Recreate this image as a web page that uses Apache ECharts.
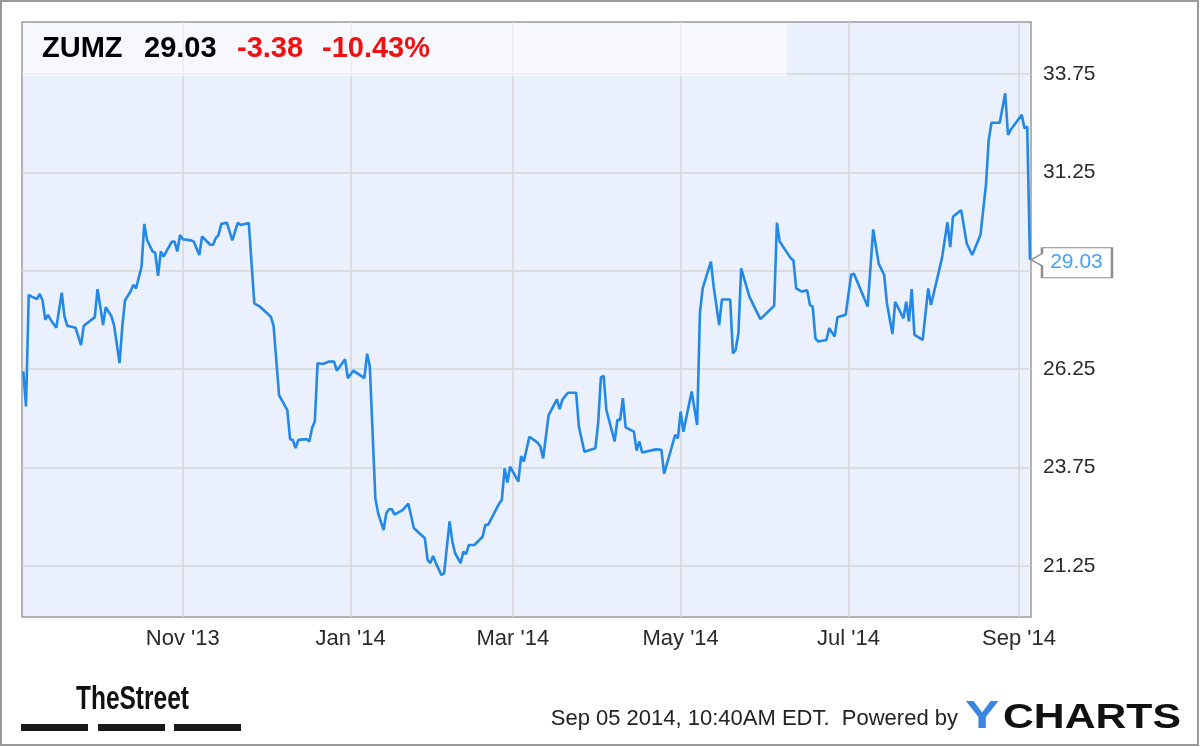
<!DOCTYPE html>
<html>
<head>
<meta charset="utf-8">
<script src="https://cdn.jsdelivr.net/npm/echarts@6/dist/echarts.min.js"></script>
<style>
  html, body { margin: 0; padding: 0; background: #fff; }
  #chart { width: 1200px; height: 747px; }
</style>
</head>
<body>
<div id="chart"></div>
<script>
// ---- header texts ----
const ticker = 'ZUMZ';
const lastPrice = '29.03';
const change = '-3.38';
const changePct = '-10.43%';
const stamp = 'Sep 05 2014, 10:40AM EDT.  Powered by';

// ---- series ----
const dates = [
 '2013-09-04','2013-09-05','2013-09-06','2013-09-07','2013-09-09','2013-09-10','2013-09-11','2013-09-12','2013-09-13','2013-09-14',
 '2013-09-16','2013-09-18','2013-09-19','2013-09-20','2013-09-23','2013-09-25','2013-09-26','2013-09-28','2013-09-30','2013-10-01',
 '2013-10-02','2013-10-03','2013-10-04','2013-10-06','2013-10-07','2013-10-09','2013-10-10','2013-10-11','2013-10-13','2013-10-14',
 '2013-10-15','2013-10-17','2013-10-18','2013-10-19','2013-10-21','2013-10-22','2013-10-23','2013-10-24','2013-10-25','2013-10-28',
 '2013-10-29','2013-10-30','2013-10-31','2013-11-01','2013-11-04','2013-11-05','2013-11-07','2013-11-08','2013-11-11','2013-11-12',
 '2013-11-13','2013-11-14','2013-11-15','2013-11-17','2013-11-19','2013-11-21','2013-11-22','2013-11-25','2013-11-27','2013-11-29',
 '2013-12-03','2013-12-04','2013-12-06','2013-12-09','2013-12-10','2013-12-11','2013-12-12','2013-12-13','2013-12-16','2013-12-17',
 '2013-12-18','2013-12-19','2013-12-20','2013-12-22','2013-12-24','2013-12-26','2013-12-27','2013-12-30','2013-12-31','2014-01-02',
 '2014-01-06','2014-01-07','2014-01-08','2014-01-10','2014-01-11','2014-01-13','2014-01-14','2014-01-15','2014-01-16','2014-01-17',
 '2014-01-20','2014-01-22','2014-01-24','2014-01-26','2014-01-28','2014-01-29','2014-01-30','2014-01-31','2014-02-01','2014-02-03',
 '2014-02-04','2014-02-06','2014-02-07','2014-02-08','2014-02-10','2014-02-11','2014-02-12','2014-02-13','2014-02-15','2014-02-18',
 '2014-02-19','2014-02-20','2014-02-24','2014-02-25','2014-02-26','2014-02-27','2014-02-28','2014-03-03','2014-03-04','2014-03-05',
 '2014-03-07','2014-03-10','2014-03-11','2014-03-12','2014-03-14','2014-03-17','2014-03-18','2014-03-19','2014-03-21','2014-03-24',
 '2014-03-25','2014-03-27','2014-03-31','2014-04-01','2014-04-02','2014-04-03','2014-04-04','2014-04-07','2014-04-08','2014-04-09',
 '2014-04-10','2014-04-11','2014-04-14','2014-04-15','2014-04-16','2014-04-17','2014-04-22','2014-04-24','2014-04-25','2014-04-29',
 '2014-04-30','2014-05-01','2014-05-02','2014-05-05','2014-05-07','2014-05-08','2014-05-09','2014-05-12','2014-05-13','2014-05-15',
 '2014-05-16','2014-05-19','2014-05-20','2014-05-21','2014-05-22','2014-05-23','2014-05-26','2014-05-28','2014-05-30','2014-06-04',
 '2014-06-05','2014-06-06','2014-06-10','2014-06-11','2014-06-12','2014-06-14','2014-06-16','2014-06-17','2014-06-18','2014-06-19',
 '2014-06-20','2014-06-23','2014-06-24','2014-06-26','2014-06-27','2014-06-30','2014-07-02','2014-07-03','2014-07-08','2014-07-10',
 '2014-07-12','2014-07-14','2014-07-15','2014-07-17','2014-07-18','2014-07-21','2014-07-22','2014-07-23','2014-07-24','2014-07-25',
 '2014-07-28','2014-07-30','2014-07-31','2014-08-02','2014-08-04','2014-08-06','2014-08-07','2014-08-08','2014-08-11','2014-08-13',
 '2014-08-15','2014-08-18','2014-08-20','2014-08-21','2014-08-22','2014-08-25','2014-08-27','2014-08-28','2014-08-29','2014-09-02',
 '2014-09-03','2014-09-04','2014-09-05'
];
const prices = [
 26.19,25.30,28.14,28.09,28.03,28.16,28.00,27.50,27.63,27.50,
 27.30,28.19,27.58,27.35,27.30,26.86,27.35,27.46,27.57,28.28,
 27.84,27.37,27.82,27.60,27.37,26.40,27.33,28.00,28.22,28.39,
 28.30,28.85,29.94,29.53,29.24,29.20,28.62,29.24,29.11,29.49,
 29.49,29.24,29.66,29.55,29.52,29.49,29.15,29.62,29.41,29.41,
 29.58,29.66,29.94,29.97,29.52,29.97,29.91,29.96,27.92,27.84,
 27.58,27.35,25.59,25.21,24.47,24.45,24.24,24.45,24.47,24.41,
 24.75,24.92,26.40,26.38,26.44,26.44,26.21,26.50,26.02,26.21,
 26.02,26.64,26.31,22.97,22.59,22.16,22.59,22.69,22.69,22.55,
 22.67,22.83,22.21,22.08,21.95,21.40,21.32,21.50,21.32,21.02,
 21.06,22.38,21.87,21.57,21.32,21.61,21.55,21.78,21.78,21.99,
 22.29,22.29,22.83,22.93,23.73,23.37,23.77,23.39,24.04,23.90,
 24.53,24.38,24.28,23.98,25.08,25.48,25.23,25.47,25.65,25.65,
 24.79,24.15,24.24,24.87,26.04,26.08,25.21,24.41,24.96,24.96,
 25.51,24.77,24.66,24.18,24.41,24.13,24.21,24.20,23.59,24.58,
 24.49,25.17,24.66,25.68,24.83,27.67,28.30,28.98,28.35,27.37,
 28.02,28.02,26.65,26.74,27.16,28.81,28.09,27.80,27.52,27.86,
 29.97,29.49,29.07,29.01,28.30,28.22,28.25,27.88,27.84,27.03,
 26.95,26.99,27.29,27.08,27.57,27.63,28.65,28.67,27.84,29.80,
 28.93,28.64,27.92,27.14,27.96,27.54,27.96,27.46,28.28,27.12,
 26.99,28.30,27.88,28.47,29.07,29.98,29.35,30.12,30.29,29.44,
 29.15,29.66,30.93,32.07,32.51,32.51,33.26,32.20,32.33,32.71,
 32.37,32.41,29.03
];

// ---- axes ----
const xMin = '2013-09-03T13:00:00';
const xMax = '2014-09-05T09:00:00';
const xTickDates = ['2013-11-01','2014-01-01','2014-03-01','2014-05-01','2014-07-01','2014-09-01'];
const xTickLabels = ["Nov '13","Jan '14","Mar '14","May '14","Jul '14","Sep '14"];
const yMin = 19.95, yMax = 35.07;
const yGridValues = [21.25, 23.75, 26.25, 28.75, 31.25, 33.75];
const yLabelValues = [21.25, 23.75, 26.25, 31.25, 33.75];

const parseT = (s) => +new Date(s.length === 10 ? s + 'T00:00:00' : s);
const xTickTimes = xTickDates.map(parseT);
const seriesData = dates.map((d, i) => [parseT(d), prices[i]]);
const lastIdx = prices.length - 1;

const chart = echarts.init(document.getElementById('chart'), null, { renderer: 'canvas' });
const FONT = 'Liberation Sans, Arial, sans-serif';

chart.setOption({
  animation: false,
  backgroundColor: '#ffffff',
  grid: {
    left: 22, right: 169, top: 22, bottom: 130,
    show: true, backgroundColor: '#eaf0fc', borderColor: '#9a9a9a', borderWidth: 1.5
  },
  xAxis: {
    type: 'value',
    min: parseT(xMin), max: parseT(xMax),
    axisLine: { show: false },
    axisTick: { show: false, customValues: xTickTimes },
    axisLabel: {
      customValues: xTickTimes,
      margin: 11,
      fontFamily: FONT, fontSize: 22, color: '#2a2a2a',
      formatter: (v) => {
        const i = xTickTimes.findIndex(t => Math.abs(t - v) < 43200000);
        return i >= 0 ? xTickLabels[i] : '';
      }
    },
    splitLine: { show: true, lineStyle: { color: '#d6d6d6', width: 1.5 } }
  },
  yAxis: {
    type: 'value',
    position: 'right',
    min: yMin, max: yMax,
    axisLine: { show: false },
    axisTick: { show: false, customValues: yGridValues },
    axisLabel: {
      customValues: yLabelValues,
      margin: 12,
      fontFamily: FONT, fontSize: 21, color: '#2a2a2a',
      formatter: (v) => v.toFixed(2)
    },
    splitLine: { show: true, lineStyle: { color: '#d6d6d6', width: 1.5 } }
  },
  series: [{
    type: 'line',
    data: seriesData,
    showSymbol: false,
    symbol: 'none',
    lineStyle: { color: '#2388e6', width: 2.6 },
    z: 5,
    markPoint: {
      symbol: 'path://M11,0 L81,0 L81,30 L11,30 L11,18 L0,12 L11,6 Z',
      symbolSize: [81, 30],
      symbolOffset: [41.5, 3],
      itemStyle: { color: '#ffffff', borderColor: '#8c8c8c', borderWidth: 1.5 },
      label: {
        show: true, position: 'inside', offset: [5, 0],
        color: '#4aa0f2', fontFamily: FONT, fontSize: 21,
        formatter: () => prices[lastIdx].toFixed(2)
      },
      data: [{ coord: [seriesData[lastIdx][0], prices[lastIdx]] }],
      z: 10
    }
  }],
  graphic: [
    { type: 'rect', z: 100, silent: true,
      shape: { x: 1, y: 1, width: 1197, height: 744 },
      style: { fill: 'none', stroke: '#9a9a9a', lineWidth: 2 } },
    { type: 'rect', z: 3, silent: true,
      shape: { x: 23, y: 23, width: 764, height: 53 },
      style: { fill: 'rgba(255,255,255,0.55)' } },
    { type: 'text', z: 6, x: 42, y: 49,
      style: { text: ticker, font: 'bold 29px ' + FONT, fill: '#000', textVerticalAlign: 'middle', verticalAlign: 'middle' } },
    { type: 'text', z: 6, x: 144, y: 49,
      style: { text: lastPrice, font: 'bold 29px ' + FONT, fill: '#000', textVerticalAlign: 'middle', verticalAlign: 'middle' } },
    { type: 'text', z: 6, x: 237, y: 49,
      style: { text: change, font: 'bold 29px ' + FONT, fill: '#f01010', textVerticalAlign: 'middle', verticalAlign: 'middle' } },
    { type: 'text', z: 6, x: 322, y: 49,
      style: { text: changePct, font: 'bold 29px ' + FONT, fill: '#f01010', textVerticalAlign: 'middle', verticalAlign: 'middle' } },
    { type: 'text', z: 6, x: 76, y: 700, scaleX: 0.72,
      style: { text: 'TheStreet', font: 'bold 34px ' + FONT, fill: '#111', textVerticalAlign: 'middle', verticalAlign: 'middle' } },
    { type: 'rect', z: 6, shape: { x: 21, y: 724, width: 67, height: 7 }, style: { fill: '#1a1a1a' } },
    { type: 'rect', z: 6, shape: { x: 98, y: 724, width: 67, height: 7 }, style: { fill: '#1a1a1a' } },
    { type: 'rect', z: 6, shape: { x: 174, y: 724, width: 67, height: 7 }, style: { fill: '#1a1a1a' } },
    { type: 'text', z: 6, x: 958, y: 719, scaleX: 1.0,
      style: { text: stamp, font: '22px ' + FONT, fill: '#222', textAlign: 'right', align: 'right', textVerticalAlign: 'middle', verticalAlign: 'middle' } },
    { type: 'text', z: 6, x: 965, y: 718, scaleX: 1.35,
      style: { text: 'Y', font: 'bold 38px ' + FONT, fill: '#3a86e0', textVerticalAlign: 'middle', verticalAlign: 'middle' } },
    { type: 'text', z: 6, x: 1003, y: 718, scaleX: 1.22,
      style: { text: 'CHARTS', font: 'bold 35px ' + FONT, fill: '#111', textVerticalAlign: 'middle', verticalAlign: 'middle' } }
  ]
});
</script>
</body>
</html>
